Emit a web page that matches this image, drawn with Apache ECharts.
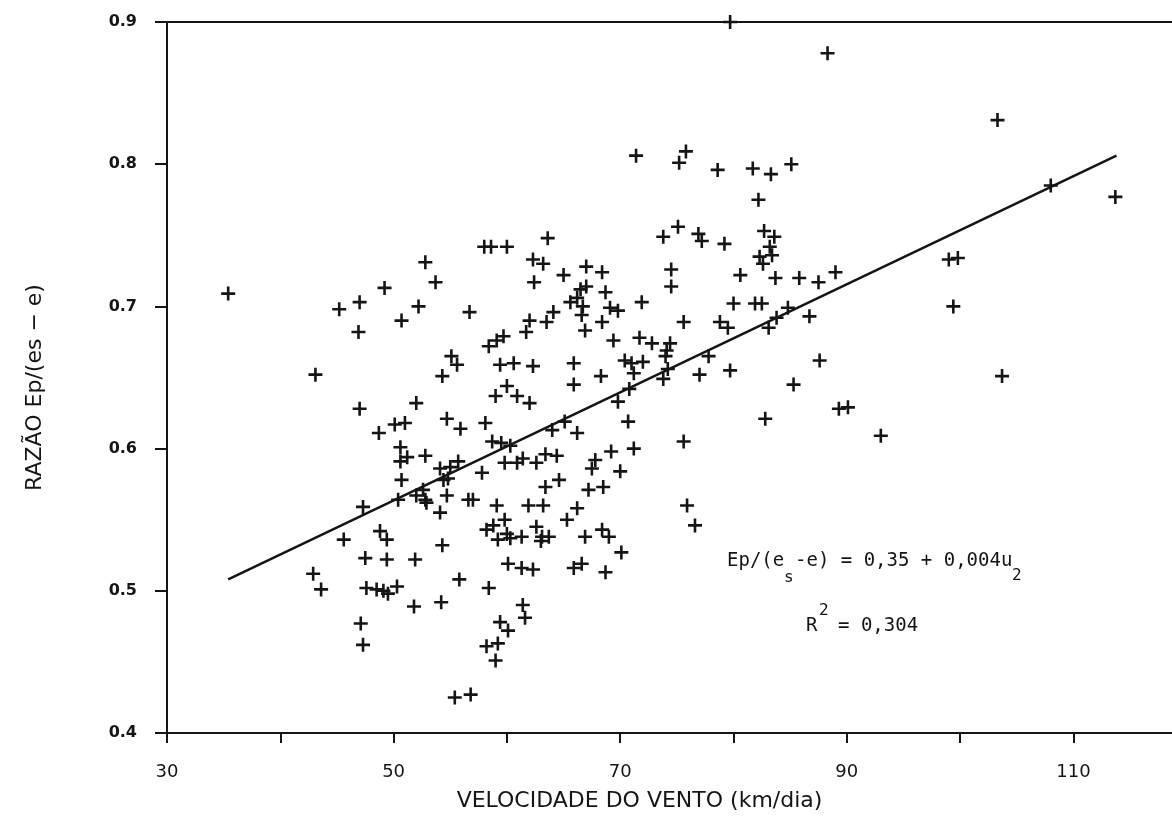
<!DOCTYPE html>
<html>
<head>
<meta charset="utf-8">
<script src="https://cdn.jsdelivr.net/npm/echarts@6/dist/echarts.min.js"></script>
<style>
  html, body { margin: 0; padding: 0; background: #fff; }
  #chart { width: 1172px; height: 828px; }
</style>
</head>
<body>
<div id="chart"></div>
<script>
// velocidade do vento (km/dia) e razao Ep/(es - e)
const windSpeed = [
  35.4, 49.2, 45.2, 47.0, 50.7, 46.9, 52.2, 52.8, 43.1, 47.0, 52.0, 50.1, 51.0, 48.7, 50.6, 51.2, 50.6, 50.7,
  47.3, 50.4, 45.6, 48.8, 49.4, 47.5, 49.4, 51.9, 42.9, 43.6, 47.6, 48.5, 49.1, 49.5, 50.3, 51.8, 47.1, 47.3,
  53.7, 56.7, 62.3, 63.2, 62.4, 65.0, 67.0, 68.4, 66.5, 67.0, 68.7, 65.6, 66.2, 66.7, 66.6, 69.1, 69.8, 68.4,
  66.9, 64.1, 63.5, 62.0, 61.7, 69.4, 70.4, 59.7, 59.1, 58.4, 55.1, 55.6, 54.3, 59.4, 60.6, 62.3, 65.9, 65.9,
  68.3, 60.0, 59.0, 60.9, 62.0, 54.7, 55.9, 58.1, 69.8, 70.7, 58.7, 59.5, 60.3, 64.0, 65.1, 66.2, 69.2, 52.8,
  59.8, 60.9, 61.4, 62.6, 63.4, 64.4, 54.1, 55.0, 55.7, 54.4, 54.8, 57.8, 67.8, 67.5, 70.0, 64.6, 63.4, 67.2,
  68.5, 52.6, 52.0, 52.8, 52.9, 54.7, 56.6, 57.0, 54.1, 59.1, 61.9, 63.2, 66.2, 65.3, 58.2, 58.8, 59.8, 59.2,
  60.0, 60.3, 61.3, 62.6, 63.1, 63.0, 63.7, 66.9, 68.4, 69.0, 70.1, 54.3, 60.1, 61.3, 62.3, 65.9, 66.6, 68.7,
  55.8, 58.4, 54.2, 61.4, 61.6, 59.4, 60.1, 58.2, 59.2, 59.0, 55.4, 56.8, 82.3, 83.4, 82.6, 74.5, 74.5, 80.6,
  83.7, 85.8, 87.5, 89.0, 71.9, 80.0, 81.9, 82.5, 75.6, 78.8, 79.5, 83.1, 83.8, 84.8, 86.7, 71.7, 72.8, 74.4,
  74.1, 74.0, 71.0, 72.0, 71.2, 74.2, 73.8, 77.8, 77.0, 79.7, 70.8, 87.6, 85.3, 82.8, 71.2, 75.6, 99.0, 99.8,
  99.4, 103.7, 89.3, 90.1, 93.0, 103.3, 108.0, 113.7, 88.3, 71.4, 75.8, 75.2, 78.6, 81.7, 83.3, 85.1, 82.2, 73.8,
  75.1, 76.9, 77.2, 79.2, 82.7, 83.6, 83.2, 75.9, 76.6, 58.0, 58.6, 60.0, 63.6, 79.7
];
const ratio = [
  0.709, 0.713, 0.698, 0.703, 0.690, 0.682, 0.700, 0.731, 0.652, 0.628, 0.632, 0.617, 0.618, 0.611, 0.601, 0.594, 0.591, 0.578,
  0.559, 0.564, 0.536, 0.542, 0.536, 0.523, 0.522, 0.522, 0.512, 0.501, 0.502, 0.501, 0.500, 0.498, 0.503, 0.489, 0.477, 0.462,
  0.717, 0.696, 0.733, 0.730, 0.717, 0.722, 0.728, 0.724, 0.712, 0.714, 0.710, 0.703, 0.706, 0.700, 0.694, 0.699, 0.697, 0.689,
  0.683, 0.696, 0.689, 0.690, 0.682, 0.676, 0.662, 0.679, 0.676, 0.672, 0.665, 0.659, 0.651, 0.659, 0.660, 0.658, 0.660, 0.645,
  0.651, 0.644, 0.637, 0.637, 0.632, 0.621, 0.614, 0.618, 0.633, 0.619, 0.605, 0.604, 0.602, 0.613, 0.619, 0.611, 0.598, 0.595,
  0.590, 0.590, 0.593, 0.590, 0.596, 0.595, 0.586, 0.587, 0.591, 0.578, 0.579, 0.583, 0.592, 0.586, 0.584, 0.578, 0.573, 0.571,
  0.573, 0.571, 0.567, 0.564, 0.562, 0.567, 0.564, 0.564, 0.555, 0.560, 0.560, 0.560, 0.558, 0.550, 0.543, 0.546, 0.550, 0.536,
  0.540, 0.537, 0.538, 0.545, 0.538, 0.535, 0.538, 0.538, 0.543, 0.538, 0.527, 0.532, 0.519, 0.516, 0.515, 0.516, 0.519, 0.513,
  0.508, 0.502, 0.492, 0.490, 0.481, 0.478, 0.472, 0.461, 0.463, 0.451, 0.425, 0.427, 0.735, 0.736, 0.730, 0.726, 0.714, 0.722,
  0.720, 0.720, 0.717, 0.724, 0.703, 0.702, 0.702, 0.702, 0.689, 0.689, 0.685, 0.685, 0.692, 0.699, 0.693, 0.678, 0.674, 0.674,
  0.669, 0.665, 0.660, 0.661, 0.653, 0.656, 0.649, 0.665, 0.652, 0.655, 0.642, 0.662, 0.645, 0.621, 0.600, 0.605, 0.733, 0.734,
  0.700, 0.651, 0.628, 0.629, 0.609, 0.831, 0.785, 0.777, 0.878, 0.806, 0.809, 0.801, 0.796, 0.797, 0.793, 0.800, 0.775, 0.749,
  0.756, 0.751, 0.746, 0.744, 0.753, 0.749, 0.742, 0.560, 0.546, 0.742, 0.742, 0.742, 0.748, 0.900
];

// reta de regressao como desenhada
const fitX = [35.4, 113.8];
const fitY = [0.508, 0.806];

const xTicks = [30, 40, 50, 60, 70, 80, 90, 100, 110];
const xLabels = [30, 50, 70, 90, 110];
const xMin = 30, xMax = 118.7;

const points = windSpeed.map((v, i) => [v, ratio[i]]);
const fitLine = fitX.map((v, i) => [v, fitY[i]]);

const plus = 'path://M5.7,0 H8.3 V5.7 H14 V8.3 H8.3 V14 H5.7 V8.3 H0 V5.7 H5.7 Z';
const ink = '#151515';
const mono = 'DejaVu Sans Mono';

function txt(x, y, s, size) {
    return {
        type: 'text', x: x, y: y, silent: true,
        style: { text: s, fill: ink, font: size + 'px "' + mono + '"', align: 'left', verticalAlign: 'middle' }
    };
}

const myChart = echarts.init(document.getElementById('chart'), null, { renderer: 'canvas' });
myChart.setOption({
    backgroundColor: '#fff',
    animation: false,
    grid: { left: 167, right: 0, top: 22, bottom: 95 },
    xAxis: [{
        type: 'value',
        min: xMin,
        max: xMax,
        interval: 10,
        name: 'VELOCIDADE DO VENTO (km/dia)',
        nameLocation: 'middle',
        nameGap: 57,
        nameTextStyle: {
            color: ink,
            fontFamily: 'DejaVu Sans',
            fontSize: 22,
            padding: [0, 60, 0, 0]
        },
        axisLine: { lineStyle: { color: ink, width: 2 } },
        axisTick: { inside: false, length: 10, customValues: xTicks, lineStyle: { color: ink, width: 2 } },
        axisLabel: {
            margin: 30,
            color: ink,
            fontFamily: 'DejaVu Sans',
            fontSize: 18,
            customValues: xLabels
        },
        splitLine: { show: false }
    }, {
        // borda superior
        type: 'value',
        position: 'top',
        min: xMin,
        max: xMax,
        axisLine: { show: true, lineStyle: { color: ink, width: 2 } },
        axisTick: { show: false },
        axisLabel: { show: false },
        splitLine: { show: false }
    }],
    yAxis: {
        type: 'value',
        min: 0.4,
        max: 0.9,
        interval: 0.1,
        name: 'RAZÃO Ep/(es − e)',
        nameLocation: 'middle',
        nameRotate: 90,
        nameGap: 121,
        nameTextStyle: {
            color: ink,
            fontFamily: 'DejaVu Sans',
            fontSize: 22,
            padding: [0, 20, 0, 0]
        },
        axisLine: { show: true, lineStyle: { color: ink, width: 2 } },
        axisTick: { show: true, inside: false, length: 12, lineStyle: { color: ink, width: 2 } },
        axisLabel: {
            margin: 30,
            color: ink,
            fontFamily: 'DejaVu Sans',
            fontWeight: 'bold',
            fontSize: 16,
            formatter: function (v) { return v.toFixed(1); }
        },
        splitLine: { show: false }
    },
    series: [{
        name: 'dados',
        type: 'scatter',
        symbol: plus,
        symbolSize: 14,
        itemStyle: { color: ink, opacity: 1 },
        data: points,
        z: 3
    }, {
        name: 'regressao',
        type: 'line',
        data: fitLine,
        showSymbol: false,
        symbol: 'none',
        lineStyle: { color: ink, width: 2.5 },
        z: 4
    }],
    graphic: [
        txt(727, 561, 'Ep/(e', 19),
        txt(784, 578, 's', 16),
        txt(795, 561, '-e) = 0,35 + 0,004u', 19),
        txt(1012, 576, '2', 16),
        txt(806, 626, 'R', 19),
        txt(819, 611, '2', 16),
        txt(838, 626, '= 0,304', 19)
    ]
});
</script>
</body>
</html>
